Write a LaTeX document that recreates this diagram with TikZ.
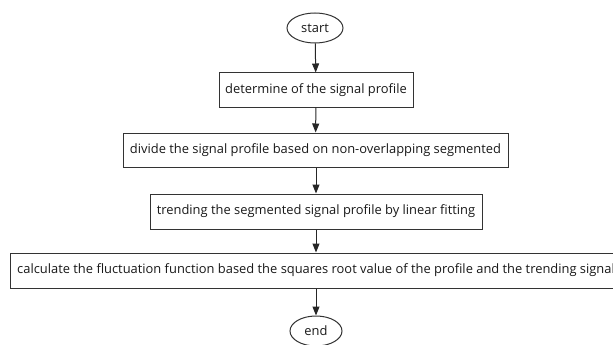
\documentclass[tikz,border=0pt]{standalone}
\usepackage{fontspec}
\setmainfont{Open Sans}
\usetikzlibrary{shapes.geometric,arrows.meta}
\begin{document}
\begin{tikzpicture}[x=1pt,y=-1pt,
  every node/.style={font=\fontsize{12.9}{15}\selectfont, text=black!90, inner sep=0pt},
  procbox/.style={draw=black!80, line width=1pt, rectangle, minimum height=34pt},
  term/.style={draw=black!80, line width=1pt, ellipse},
  flow/.style={draw=black!85, line width=1pt, -{Triangle[length=9pt,width=7pt]}}]
\useasboundingbox (0,0) rectangle (613,345);
\clip (0,0) rectangle (613,345);
\node[term, minimum width=56pt, minimum height=30pt] (start) at (315,28) {start};
\node[procbox, minimum width=194pt] (b1) at (316,90) {determine of the signal profile};
\node[procbox, minimum width=385pt] (b2) at (315.5,150) {divide the signal profile based on non-overlapping segmented};
\node[procbox, minimum width=332pt, minimum height=35pt] (b3) at (316,211.5) {trending the segmented signal profile by linear fitting};
\node[procbox, minimum width=612pt, minimum height=35pt] (b4) at (316,270.5) {calculate the fluctuation function based the squares root value of the profile and the trending signal};
\node[term, minimum width=52pt, minimum height=30pt] (end) at (316,331) {end};
\draw[flow] (start) -- (b1);
\draw[flow] (b1) -- (b2);
\draw[flow] (b2.south -| b1.south) -- (b3);
\draw[flow] (b3) -- (b4);
\draw[flow] (b4) -- (end);
\end{tikzpicture}
\end{document}
